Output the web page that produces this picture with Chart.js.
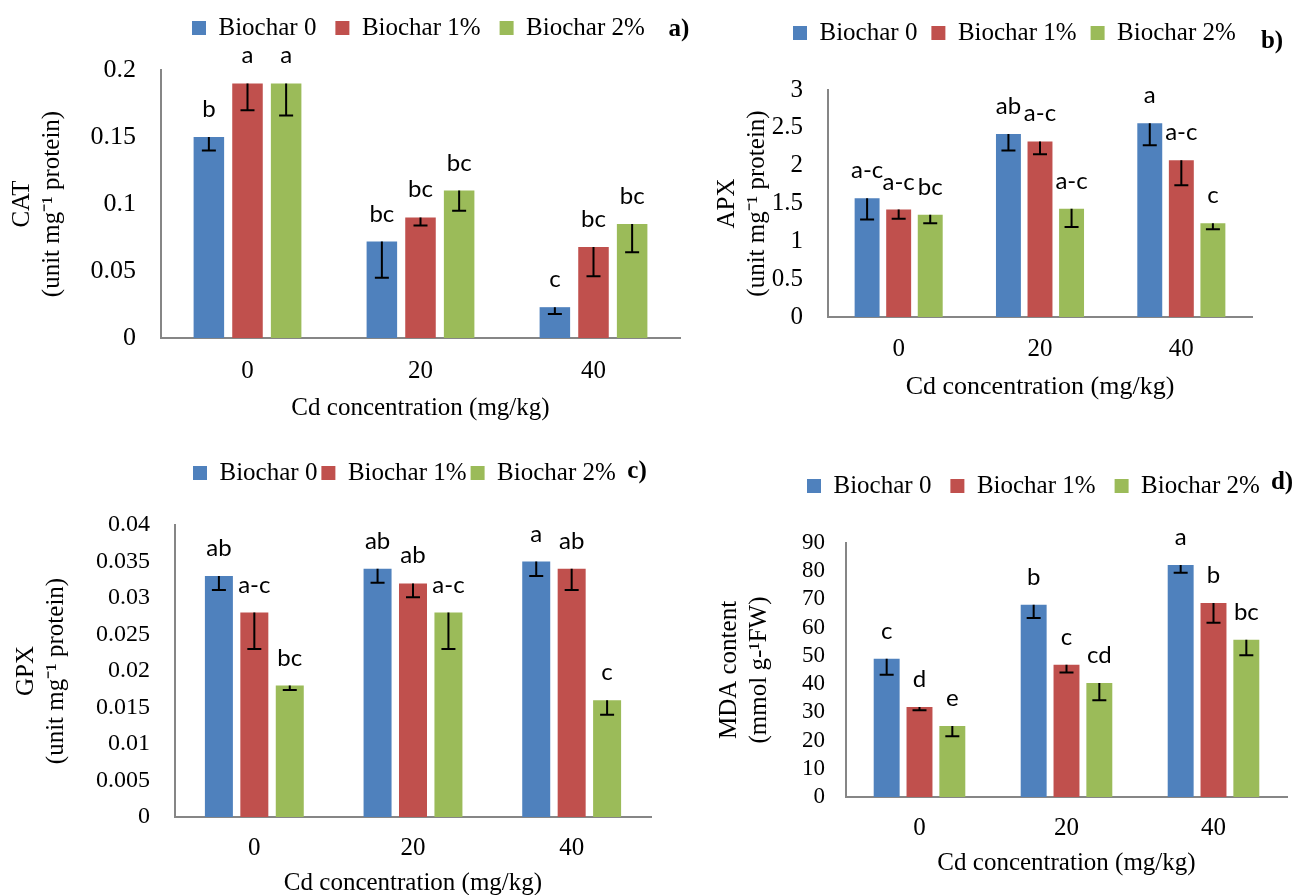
<!DOCTYPE html>
<html>
<head>
<meta charset="utf-8">
<script src="https://cdn.jsdelivr.net/npm/chart.js@4.4.1/dist/chart.umd.min.js"></script>
<style>
  html, body { margin: 0; padding: 0; background: #fff; overflow: hidden; width: 1304px; height: 895px; }
  canvas { position: absolute; }
</style>
</head>
<body>
<canvas id="catChart" width="700" height="430" style="left:0;top:0"></canvas>
<canvas id="apxChart" width="604" height="430" style="left:700px;top:0"></canvas>
<canvas id="gpxChart" width="700" height="480" style="left:0;top:430px"></canvas>
<canvas id="mdaChart" width="604" height="465" style="left:700px;top:430px"></canvas>
<script>
// Shared categories and series
const cdLevels = ['0', '20', '40'];
const seriesNames = ['Biochar 0', 'Biochar 1%', 'Biochar 2%'];
const seriesColors = ['#4F81BD', '#C0504D', '#9BBB59'];

// a) CAT
const catB0 = [0.150, 0.072, 0.023];
const catB1 = [0.190, 0.090, 0.068];
const catB2 = [0.190, 0.110, 0.085];
const catErr0 = [0.010, 0.027, 0.005];
const catErr1 = [0.020, 0.006, 0.022];
const catErr2 = [0.024, 0.015, 0.021];
const catLet0 = ['b', 'bc', 'c'];
const catLet1 = ['a', 'bc', 'bc'];
const catLet2 = ['a', 'bc', 'bc'];
const catTicks = ['0', '0.05', '0.1', '0.15', '0.2'];

// b) APX
const apxB0 = [1.57, 2.42, 2.56];
const apxB1 = [1.42, 2.32, 2.07];
const apxB2 = [1.35, 1.43, 1.24];
const apxErr0 = [0.28, 0.22, 0.29];
const apxErr1 = [0.12, 0.17, 0.33];
const apxErr2 = [0.11, 0.24, 0.08];
const apxLet0 = ['a-c', 'ab', 'a'];
const apxLet1 = ['a-c', 'a-c', 'a-c'];
const apxLet2 = ['bc', 'a-c', 'c'];
const apxTicks = ['0', '0.5', '1', '1.5', '2', '2.5', '3'];

// c) GPX
const gpxB0 = [0.033, 0.034, 0.035];
const gpxB1 = [0.028, 0.032, 0.034];
const gpxB2 = [0.018, 0.028, 0.016];
const gpxErr0 = [0.0019, 0.0019, 0.0020];
const gpxErr1 = [0.0050, 0.0019, 0.0029];
const gpxErr2 = [0.0006, 0.0050, 0.0020];
const gpxLet0 = ['ab', 'ab', 'a'];
const gpxLet1 = ['a-c', 'ab', 'ab'];
const gpxLet2 = ['bc', 'a-c', 'c'];
const gpxTicks = ['0', '0.005', '0.01', '0.015', '0.02', '0.025', '0.03', '0.035', '0.04'];

// d) MDA
const mdaB0 = [49.0, 68.1, 82.2];
const mdaB1 = [31.9, 46.9, 68.7];
const mdaB2 = [25.2, 40.4, 55.7];
const mdaErr0 = [5.7, 4.7, 2.7];
const mdaErr1 = [1.2, 2.8, 7.0];
const mdaErr2 = [3.7, 6.1, 5.5];
const mdaLet0 = ['c', 'b', 'a'];
const mdaLet1 = ['d', 'c', 'b'];
const mdaLet2 = ['e', 'cd', 'bc'];
const mdaTicks = ['0', '10', '20', '30', '40', '50', '60', '70', '80', '90'];

Chart.defaults.font.family = '"Liberation Serif", "Times New Roman", serif';
Chart.defaults.color = '#000';

// legend sizing, error bars, significance letters and panel tag
const barExtras = {
  id: 'barExtras',
  beforeInit(chart, args, opts) {
    const fit = chart.legend.fit;
    chart.legend.fit = function () {
      fit.call(this);
      this.height = opts.legendHeight;
    };
  },
  afterLayout(chart, args, opts) {
    const lg = chart.legend;
    lg.left += opts.legendDx; lg.right += opts.legendDx;
    lg.top += opts.legendDy; lg.bottom += opts.legendDy;
  },
  afterDatasetsDraw(chart, args, opts) {
    const ctx = chart.ctx;
    const yScale = chart.scales.y;
    ctx.save();
    chart.data.datasets.forEach((ds, i) => {
      chart.getDatasetMeta(i).data.forEach((bar, j) => {
        const low = yScale.getPixelForValue(ds.data[j] - ds.errors[j]);
        ctx.strokeStyle = '#000';
        ctx.lineWidth = 2;
        ctx.beginPath();
        ctx.moveTo(bar.x, bar.y);
        ctx.lineTo(bar.x, low);
        ctx.moveTo(bar.x - 7, low);
        ctx.lineTo(bar.x + 7, low);
        ctx.stroke();
        ctx.fillStyle = '#000';
        ctx.font = '24px Lato';
        ctx.textAlign = 'center';
        ctx.textBaseline = 'alphabetic';
        ctx.fillText(ds.letters[j], bar.x, bar.y - 20);
      });
    });
    ctx.font = 'bold 25px "Liberation Serif"';
    ctx.textAlign = 'center';
    ctx.textBaseline = 'middle';
    ctx.fillText(opts.tag, opts.tagX, opts.tagY);
    ctx.restore();
  }
};

function makePanel(id, p) {
  const datasets = [0, 1, 2].map(k => ({
    label: seriesNames[k],
    data: p.values[k],
    errors: p.errors[k],
    letters: p.letters[k],
    backgroundColor: seriesColors[k],
    categoryPercentage: 0.67,
    barPercentage: 0.79
  }));
  return new Chart(document.getElementById(id), {
    type: 'bar',
    data: { labels: cdLevels, datasets },
    plugins: [barExtras],
    options: {
      responsive: false,
      animation: false,
      layout: { padding: { left: 0, right: p.padRight, top: 0, bottom: 0 } },
      scales: {
        x: {
          grid: { display: false },
          border: { display: true, color: '#868686', width: 2 },
          ticks: { font: { size: 25 }, color: '#000', padding: p.xTickPad },
          title: {
            display: true, text: 'Cd concentration (mg/kg)', color: '#000',
            font: { size: p.xTitleSize }, padding: { top: 0, bottom: p.xTitlePad }
          },
          afterFit: s => { s.height = p.xHeight; }
        },
        y: {
          min: 0,
          max: parseFloat(p.ticks[p.ticks.length - 1]),
          afterBuildTicks: s => { s.ticks = p.ticks.map(t => ({ value: parseFloat(t) })); },
          afterFit: s => { s.width = p.yWidth; },
          grid: { display: false },
          border: { display: true, color: '#868686', width: 2 },
          ticks: {
            font: { size: p.yTickSize }, color: '#000', padding: p.yTickPad, autoSkip: false,
            callback: (v, i) => p.ticks[i]
          },
          title: {
            display: true, text: p.yTitle, color: '#000',
            font: { size: 25 }, padding: { top: p.yTitlePad, bottom: 0 }
          }
        }
      },
      plugins: {
        tooltip: { enabled: false },
        legend: {
          position: 'top',
          align: 'start',
          labels: { boxWidth: 14, boxHeight: 14, padding: p.legendPad, color: '#000', font: { size: 25 } }
        },
        barExtras: {
          legendHeight: p.legendHeight, legendDx: p.legendDx, legendDy: p.legendDy,
          tag: p.tag, tagX: p.tagX, tagY: p.tagY
        }
      }
    }
  });
}

makePanel('catChart', {
  values: [catB0, catB1, catB2], errors: [catErr0, catErr1, catErr2], letters: [catLet0, catLet1, catLet2],
  ticks: catTicks, yTickSize: 26, yTickPad: 17, yTitle: ['CAT', '(unit mg\u207B\u00B9 protein)'], yTitlePad: 7,
  yWidth: 161, padRight: 20, legendHeight: 70, xHeight: 92,
  xTickPad: 10, xTitleSize: 25, xTitlePad: 7,
  legendPad: 19, legendDx: 173, legendDy: -3.5, tag: 'a)', tagX: 679, tagY: 30
});

makePanel('apxChart', {
  values: [apxB0, apxB1, apxB2], errors: [apxErr0, apxErr1, apxErr2], letters: [apxLet0, apxLet1, apxLet2],
  ticks: apxTicks, yTickSize: 25, yTickPad: 17, yTitle: ['APX', '(unit mg\u207B\u00B9 protein)'], yTitlePad: 12,
  yWidth: 128, padRight: 52, legendHeight: 90, xHeight: 113,
  xTickPad: 9, xTitleSize: 26, xTitlePad: 27,
  legendPad: 14, legendDx: 79, legendDy: 6.5, tag: 'b)', tagX: 572, tagY: 42
});

makePanel('gpxChart', {
  values: [gpxB0, gpxB1, gpxB2], errors: [gpxErr0, gpxErr1, gpxErr2], letters: [gpxLet0, gpxLet1, gpxLet2],
  ticks: gpxTicks, yTickSize: 24, yTickPad: 17, yTitle: ['GPX', '(unit mg\u207B\u00B9 protein)'], yTitlePad: 11,
  yWidth: 175, padRight: 49, legendHeight: 95, xHeight: 93,
  xTickPad: 8, xTitleSize: 25, xTitlePad: 12,
  legendPad: 4, legendDx: 189, legendDy: 26.5, tag: 'c)', tagX: 637, tagY: 42
});

makePanel('mdaChart', {
  values: [mdaB0, mdaB1, mdaB2], errors: [mdaErr0, mdaErr1, mdaErr2], letters: [mdaLet0, mdaLet1, mdaLet2],
  ticks: mdaTicks, yTickSize: 23, yTickPad: 13, yTitle: ['MDA content', '(mmol g-\u00B9FW)'], yTitlePad: 14,
  yWidth: 146, padRight: 17, legendHeight: 113, xHeight: 98,
  xTickPad: 8, xTitleSize: 25, xTitlePad: 17,
  legendPad: 19, legendDx: 88, legendDy: 24.5, tag: 'd)', tagX: 582, tagY: 53
});
</script>
</body>
</html>
